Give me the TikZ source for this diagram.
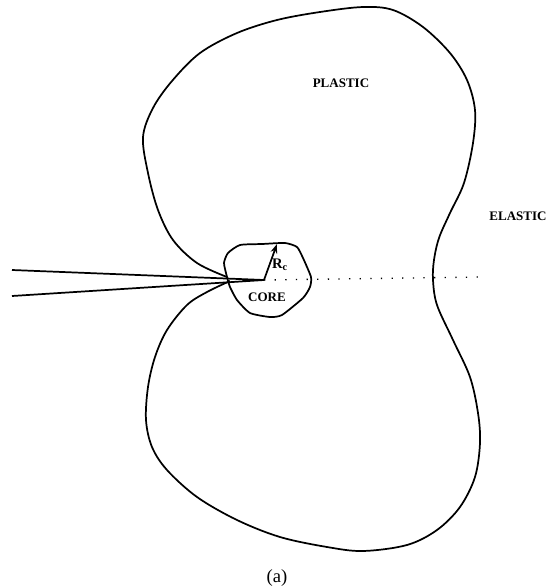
\documentclass[tikz,border=0pt]{standalone}
\usepackage{fontspec}
\setmainfont{Liberation Serif}
\usetikzlibrary{arrows.meta,positioning}
% picture runs in reference pixels, y downwards
\begin{document}
\begin{tikzpicture}[
        x=0.02646cm, y=-0.02646cm,
        line/.style={line width=1.3pt, line join=round},
        label/.style={font=\fontsize{9.8}{11}\selectfont\bfseries, inner sep=0pt},
        dots/.style={line width=1pt, dash pattern=on 1pt off 7pt}
    ]
        \useasboundingbox (0,0) rectangle (555,587);
        \coordinate (tip) at (264,280);
        \coordinate (crackup) at (12,270);
        \coordinate (cracklow) at (12,296);
        \coordinate (dotend) at (480,277);
        \coordinate (rim) at (277,244);
        \node[label] (plastic) at (341,83) {PLASTIC};
        \node[label] (elastic) at (518,216) {ELASTIC};
        \node[label] (core) at (267,297) {CORE};
        \node[font=\fontsize{11}{13}\selectfont\bfseries, inner sep=0pt] (rc) at (280,265) {R$_{\mathbf c}$};
        \node[font=\fontsize{14}{16}\selectfont, inner sep=0pt] (cap) at (277,578) {(a)};
        \draw[line] (crackup) -- (tip) -- (cracklow);
        \draw[dots] (tip) -- (dotend);
        \draw[line, -{Stealth[length=7pt,width=5pt]}] (tip) -- (rim);
        % core boundary
        \draw[line] plot[smooth cycle, tension=0.35] coordinates {(240,245) (262,244) (285,243) (297,247) (303,258)
            (311,277) (310,287) (303,298) (282,315) (270,317) (250,313) (237,300) (230,287) (227,277) (224,263) (228,253)};
        % plastic zone boundary
        \draw[line] plot[smooth, tension=0.55] coordinates {(227,277) (197,263) (173,240) (158,210) (148,173) (143,137)
            (153,108) (172,81) (200,53) (237,33) (277,20) (320,12) (363,7) (393,10) (423,27) (450,53) (467,80)
            (475,110) (473,143) (464,183) (450,213) (439,238) (434,260) (433,280) (437,305) (453,340) (470,377)
            (478,413) (480,443) (475,477) (460,507) (437,530) (407,545) (363,551) (327,547) (280,537) (237,520)
            (197,497) (167,470) (152,447) (146,420) (148,387) (155,357) (167,330) (187,305) (207,292) (230,281)};
    \end{tikzpicture}
\end{document}
